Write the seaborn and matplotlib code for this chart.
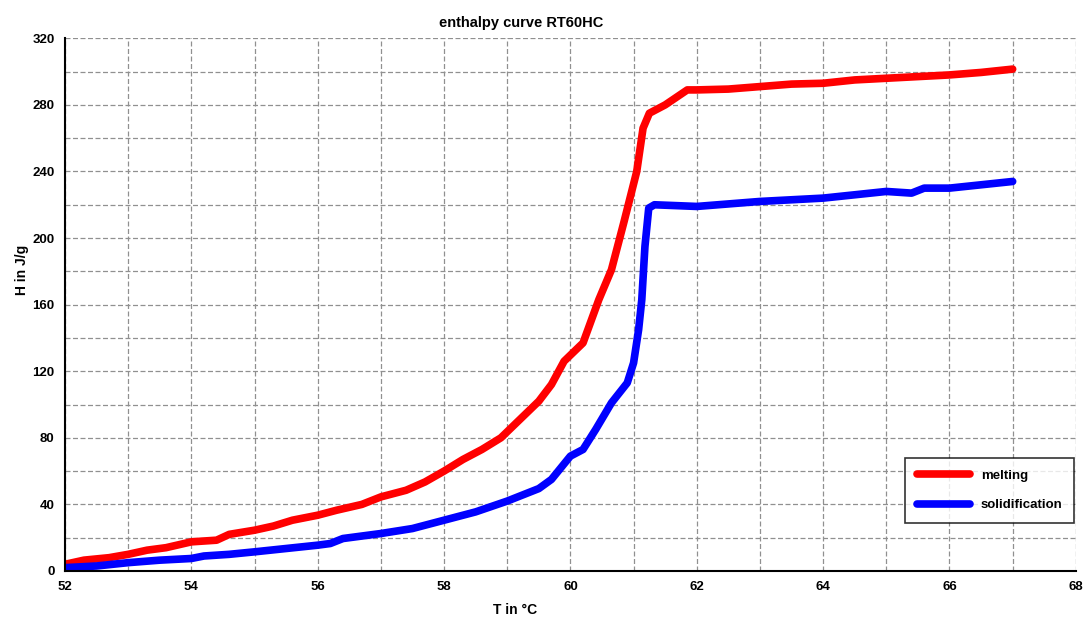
import numpy as np
import pandas as pd
import matplotlib
matplotlib.use('Agg')
import matplotlib.pyplot as plt
import seaborn as sns

# melting curve (T in degC, H in J/g)
melt_t = [52.0, 52.3, 52.7, 53.0, 53.3, 53.6, 54.0, 54.4, 54.6, 55.0, 55.3, 55.6,
          56.0, 56.3, 56.7, 57.0, 57.4, 57.7, 58.0, 58.3, 58.6, 58.9, 59.2, 59.5,
          59.7, 59.9, 60.2, 60.45, 60.65, 60.85, 61.05, 61.15, 61.25, 61.5, 61.85,
          62.0, 62.5, 63.0, 63.5, 64.0, 64.5, 65.0, 65.5, 66.0, 66.5, 67.0]
melt_h = [4, 6.5, 8, 10, 12.5, 14, 17.5, 18.5, 22, 24.5, 27, 30.5,
          33.5, 36.5, 40, 44.5, 48.5, 53.5, 60, 67, 73, 80, 91, 102,
          112, 126, 137, 163, 181, 210, 240, 266, 275, 280, 289,
          289, 289.5, 291, 292.5, 293, 295, 296, 297, 298, 299.5, 301.5]

# solidification curve
sol_t = [52.0, 52.5, 53.0, 53.5, 54.0, 54.2, 54.6, 55.0, 55.5, 56.0, 56.2, 56.4,
         57.0, 57.5, 58.0, 58.5, 59.0, 59.5, 59.7, 60.0, 60.2, 60.4, 60.65, 60.9,
         61.0, 61.08, 61.13, 61.18, 61.24, 61.33, 62.0, 62.5, 63.0, 63.5, 64.0,
         64.5, 65.0, 65.4, 65.6, 66.0, 66.5, 67.0]
sol_h = [2, 3, 5, 6.5, 7.5, 9, 10, 11.5, 13.5, 15.5, 16.5, 19.5,
         22.5, 25.5, 30.5, 35.5, 42, 49.5, 55, 69, 73, 85, 101, 113,
         125, 145, 163, 195, 218, 220, 219, 220.5, 222, 223, 224,
         226, 228, 227, 230, 230, 232, 234]

df = pd.concat([
    pd.DataFrame({'T': melt_t, 'H': melt_h, 'curve': 'melting'}),
    pd.DataFrame({'T': sol_t, 'H': sol_h, 'curve': 'solidification'}),
])

sns.set_style('white')
plt.rcParams['font.family'] = ['Liberation Sans', 'DejaVu Sans']
plt.rcParams['font.weight'] = 'bold'
plt.rcParams['text.color'] = 'black'
plt.rcParams['axes.labelcolor'] = 'black'
plt.rcParams['xtick.color'] = 'black'
plt.rcParams['ytick.color'] = 'black'

fig = plt.figure(figsize=(10.9, 6.23), dpi=100)
ax = fig.add_axes([0.0596, 0.0835, 0.9274, 0.855])

sns.lineplot(data=df, x='T', y='H', hue='curve', sort=False, estimator=None,
             palette={'melting': '#ff0000', 'solidification': '#0000ff'},
             linewidth=5.5, ax=ax, solid_capstyle='round', solid_joinstyle='round')

ax.set_xlim(52, 68)
ax.set_ylim(0, 320)
ax.set_xticks(np.arange(52, 69, 2))
ax.set_yticks(np.arange(0, 321, 40))
ax.set_xticks(np.arange(52, 69, 1), minor=True)
ax.set_yticks(np.arange(0, 321, 20), minor=True)
ax.grid(which='both', linestyle=(0, (4, 2)), color='#909090', linewidth=0.9)
ax.tick_params(axis='both', which='major', labelsize=9.5, length=4, width=1,
               direction='out', color='black', labelcolor='black')
ax.tick_params(axis='both', which='minor', length=0)
for lab in ax.get_xticklabels() + ax.get_yticklabels():
    lab.set_fontweight('bold')

for side in ['top', 'right']:
    ax.spines[side].set_visible(False)
for side in ['left', 'bottom']:
    ax.spines[side].set_color('black')
    ax.spines[side].set_linewidth(1.5)

ax.set_xlabel('T in °C', fontsize=10, fontweight='bold', color='black')
ax.set_ylabel('H in J/g', fontsize=10, fontweight='bold', color='black')
ax.xaxis.set_label_coords(0.445, -0.06)
ax.yaxis.set_label_coords(-0.036, 0.565)
ax.set_title('enthalpy curve RT60HC', fontsize=10.5, fontweight='bold', x=0.451,
             pad=8, color='black')

leg = ax.legend(loc='lower right', bbox_to_anchor=(0.9985, 0.09), frameon=True,
                fancybox=False, edgecolor='black', fontsize=9.5, handlelength=4,
                labelspacing=1.3, borderpad=0.9, borderaxespad=0)
leg.get_frame().set_linewidth(1.2)
for t in leg.get_texts():
    t.set_fontweight('bold')
    t.set_color('black')
leg.set_title(None)

fig.savefig('out.png', dpi=100)
